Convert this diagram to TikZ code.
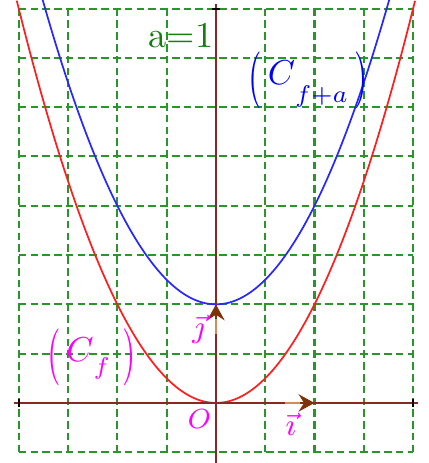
\documentclass[tikz,border=0pt]{standalone}
\usepackage{graphicx}
\usetikzlibrary{arrows.meta}
\definecolor{gridgreen}{RGB}{40,150,40}
\definecolor{textgreen}{RGB}{20,125,20}
\definecolor{axisbrown}{RGB}{140,40,35}
\definecolor{headbrown}{RGB}{125,50,12}
\definecolor{shaftorange}{RGB}{210,140,90}
\definecolor{curvered}{RGB}{255,30,30}
\definecolor{curveblue}{RGB}{40,40,255}
\definecolor{lblmagenta}{RGB}{255,0,255}
\definecolor{lblblue}{RGB}{0,0,255}
\newcommand{\tallparen}[1]{\raisebox{-0.27em}{\scalebox{1}[1.64]{#1}}}
\begin{document}
\begin{tikzpicture}[x=1cm,y=1cm,
  gridline/.style={gridgreen, line width=0.6pt, dash pattern=on 2.2pt off 1.2pt},
  axisline/.style={axisbrown, line width=0.7pt},
  tickmark/.style={black, line width=0.6pt},
  curve/.style={line width=0.5pt, smooth, samples=80},
  vecarrow/.style={headbrown, line width=0.7pt, -{Stealth[length=4.6pt,width=5pt,inset=1.6pt]}},
  lbl/.style={inner sep=0pt, font=\fontsize{9}{10}\selectfont}]
\useasboundingbox (-2.19,-0.609) rectangle (2.16,4.087);
% grid
\foreach \x in {-2,-1.5,-1,-0.5,0,0.5,1,1.5,2}
  \draw[gridline] (\x,-0.5) -- (\x,4);
\foreach \y in {-0.5,0,0.5,1,1.5,2,2.5,3,3.5,4}
  \draw[gridline] (-2,\y) -- (2,\y);
% curves
\draw[curve, curvered] plot[domain=-2.02:2.02] (\x,{\x*\x});
\draw[curve, curveblue] plot[domain=-1.765:1.765] (\x,{\x*\x+1});
% axes
\coordinate (O) at (0,0);
\coordinate (XL) at (-2.05,0);
\coordinate (XR) at (2.05,0);
\coordinate (YB) at (0,-0.62);
\coordinate (YT) at (0,4.05);
\coordinate (I) at (1,0);
\coordinate (J) at (0,1);
\draw[axisline] (XL) -- (XR);
\draw[axisline] (YB) -- (YT);
\draw[tickmark] (-2,-0.04) -- (-2,0.04);
\draw[tickmark] (2,-0.04) -- (2,0.04);
\draw[tickmark] (-0.04,4) -- (0.04,4);
% vectors
\draw[shaftorange, line width=0.7pt] (0.7,0) -- (0.9,0);
\draw[shaftorange, line width=0.7pt] (0,0.7) -- (0,0.9);
\draw[vecarrow] (0.85,0) -- (I);
\draw[vecarrow] (0,0.85) -- (J);
% labels
\node[lbl, text=lblmagenta, font=\fontsize{8.5}{10}\selectfont] (lo) at (-0.167,-0.162) {$O$};
\node[lbl, text=lblmagenta] (li) at (0.76,-0.22) {$\vec{\imath}$};
\node[lbl, text=lblmagenta] (lj) at (-0.177,0.75) {$\vec{\jmath}$};
\node[lbl, text=textgreen, font=\fontsize{10.5}{12}\selectfont] (la) at (-0.355,3.73) {a=1};
\node[lbl, anchor=base, text=lblblue, font=\fontsize{10}{12}\selectfont] (cfa) at (0.938,3.225)
  {\tallparen{(}\,$C$\raisebox{-0.5em}{$\scriptstyle f{+}a$}\hspace{2pt}\tallparen{)}};
\node[lbl, anchor=base, text=lblmagenta, font=\fontsize{10}{12}\selectfont] (cf) at (-1.263,0.416)
  {\tallparen{(}\,$C$\raisebox{-0.35em}{$\scriptstyle f$}\hspace{3.5pt}\tallparen{)}};
\end{tikzpicture}
\end{document}
